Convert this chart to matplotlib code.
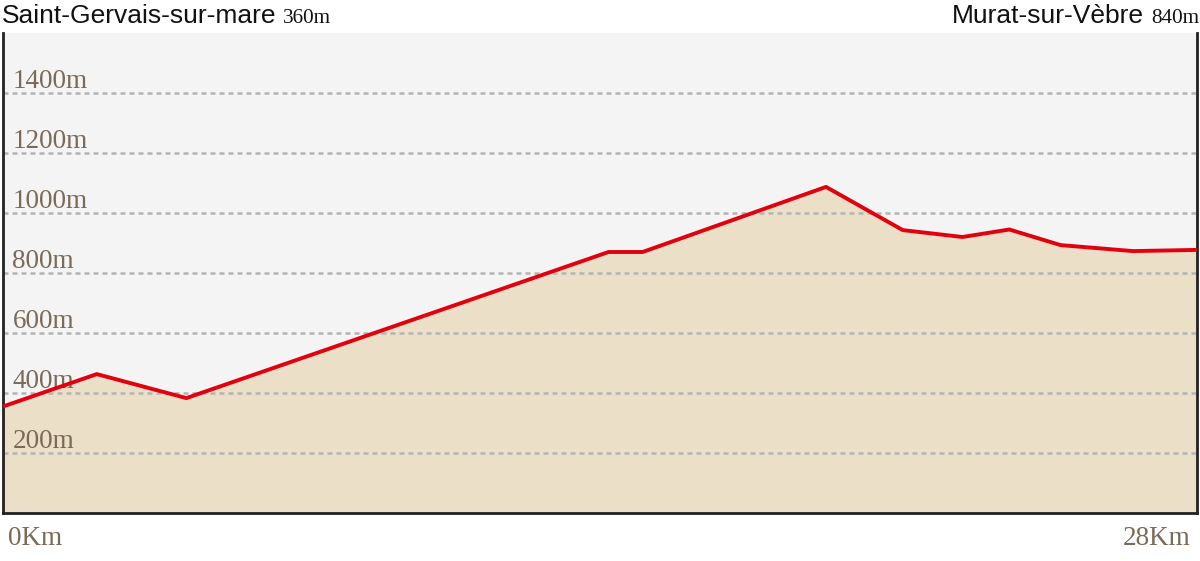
import matplotlib
matplotlib.use("Agg")
import matplotlib.pyplot as plt

# profile
km = [0, 2.2, 4.3, 14.2, 15.0, 19.3, 21.1, 22.5, 23.6, 24.8, 26.5, 28]
alt = [355, 463, 383, 870, 870, 1087, 943, 920, 945, 893, 873, 877]
yticks = [200, 400, 600, 800, 1000, 1200, 1400]
start_name, start_alt = "Saint-Gervais-sur-mare", "360m"
end_name, end_alt = "Murat-sur-Vèbre", "840m"

lab_col = "#7a6a5a"
serif = ["Liberation Serif", "DejaVu Serif"]

fig = plt.figure(figsize=(12, 5.61), dpi=100)
ax = fig.add_axes([3/1200, 48/561, 1194/1200, 480/561])
ax.set_facecolor("#f4f4f4")
ax.set_xlim(0, 28)
ax.set_ylim(0, 1600)

ax.fill_between(km, alt, 0, color="#ecdfc8", zorder=1)
for y in yticks:
    ax.axhline(y, color="#b4b4b4", lw=1.8, ls=(0, (2, 1.6)), zorder=2)
    ax.text(0.22, y + 18, f"{y}m", color=lab_col, fontsize=19.5, family=serif,
            va="baseline", ha="left", zorder=2)
ax.plot(km, alt, color="#e2000f", lw=2.8, zorder=3)

ax.set_xticks([])
ax.set_yticks([])
ax.spines["top"].set_visible(False)
for s in ["left", "right", "bottom"]:
    ax.spines[s].set_linewidth(2)
    ax.spines[s].set_color("#222222")

# titles
fig.text(2/1200, 1 - 23/561, start_name, fontsize=19, family="Liberation Sans",
         ha="left", va="baseline", color="#111111")
fig.text(283/1200, 1 - 23/561, start_alt, fontsize=15.3, family=serif,
         ha="left", va="baseline", color="#111111")
fig.text(1199/1200, 1 - 23/561, end_alt, fontsize=15.3, family=serif,
         ha="right", va="baseline", color="#111111")
fig.text(1144/1200, 1 - 23/561, end_name, fontsize=19, family="Liberation Sans",
         ha="right", va="baseline", color="#111111")

fig.text(8/1200, 1 - 545/561, "0Km", fontsize=19.5, family=serif, color=lab_col,
         ha="left", va="baseline")
fig.text(1191/1200, 1 - 545/561, "28Km", fontsize=19.5, family=serif, color=lab_col,
         ha="right", va="baseline")

fig.savefig("out.png", dpi=100)
